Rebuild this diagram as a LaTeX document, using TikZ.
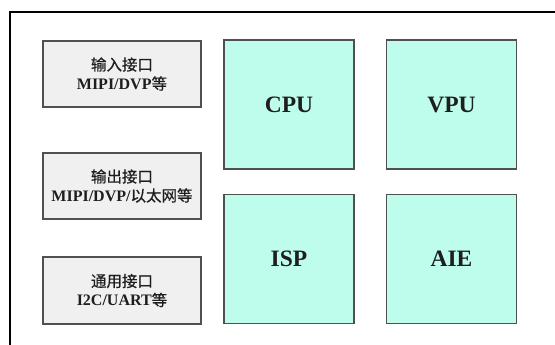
\documentclass[tikz,border=0pt]{standalone}
\usepackage{fontspec}
\setmainfont{Liberation Serif}
\newfontfamily\cjk[FakeBold=0.6]{Noto Sans CJK SC}
\definecolor{cyanfill}{RGB}{190,252,235}
\definecolor{grayfill}{RGB}{240,240,240}
\definecolor{boxline}{RGB}{80,80,80}
\definecolor{txt}{RGB}{30,30,30}
\newcommand{\zh}[1]{{\cjk\mdseries\fontsize{15.5}{21}\selectfont #1}}
\tikzset{
  portbox/.style={draw=boxline, line width=1.6pt, fill=grayfill, minimum width=158pt, minimum height=66pt, inner sep=0pt, align=center, text=txt, font=\bfseries\fontsize{16}{21}\selectfont},
  corebox/.style={draw=boxline, line width=1.6pt, fill=cyanfill, minimum width=130pt, minimum height=129pt, inner sep=0pt, text=txt, font=\bfseries\fontsize{23.5}{26}\selectfont},
}
\begin{document}
\begin{tikzpicture}[x=1pt,y=-1pt]
\useasboundingbox (0,0) rectangle (555,345);
\fill[white] (0,0) rectangle (555,345);
\coordinate (fb) at (10,346);
\coordinate (fc) at (10,12.5);
\coordinate (fr) at (556,12.5);
\draw[line width=2pt, black] (fb) -- (fc) -- (fr);
\node[portbox] (in) at (122,74) {\raisebox{-2pt}{\zh{输入接口}}\\MIPI/DVP\zh{等}};
\node[portbox] (out) at (122,186) {\raisebox{-2pt}{\zh{输出接口}}\\MIPI/DVP/\zh{以太网等}};
\node[portbox, minimum height=67pt] (gen) at (122,290.5) {\raisebox{-2pt}{\zh{通用接口}}\\I2C/UART\zh{等}};
\node[corebox] (cpu) at (289,104.5) {\raisebox{-1.5pt}{CPU}};
\node[corebox] (vpu) at (451.5,104.5) {\raisebox{-1.5pt}{VPU}};
\node[corebox] (isp) at (289,259) {\raisebox{-1.5pt}{ISP}};
\node[corebox] (aie) at (451.5,259) {\raisebox{-1.5pt}{AIE}};
\end{tikzpicture}
\end{document}
